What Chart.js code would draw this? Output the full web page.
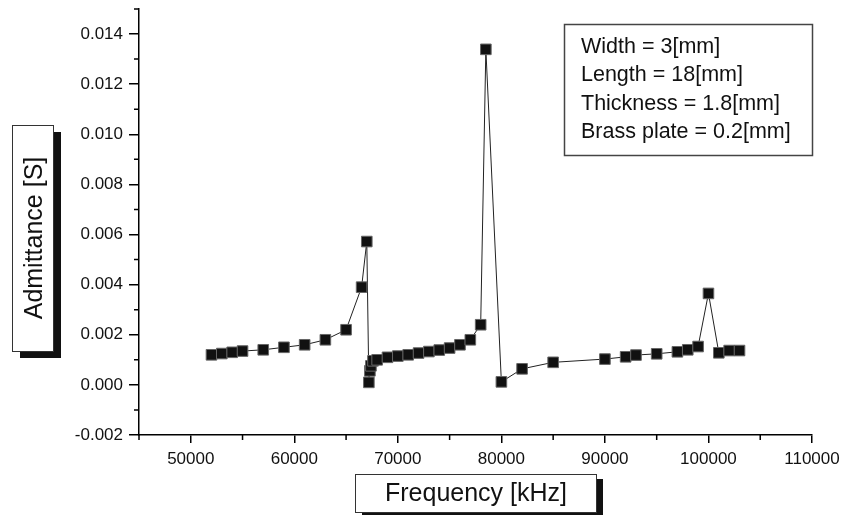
<!DOCTYPE html>
<html>
<head>
<meta charset="utf-8">
<script src="https://cdn.jsdelivr.net/npm/chart.js@4.4.0/dist/chart.umd.min.js"></script>
<style>
  html, body { margin: 0; padding: 0; background: #fff; }
  #wrap { position: relative; width: 857px; height: 515px; }
</style>
</head>
<body>
<div id="wrap"><canvas id="chart" width="857" height="515"></canvas></div>
<script>
const freq = [52000, 53000, 54000, 55000, 57000, 59000, 61000, 63000, 65000, 66500,
              67000, 67200, 67300, 67400, 67600, 68000, 69000, 70000, 71000, 72000,
              73000, 74000, 75000, 76000, 77000, 78000, 78500, 80000, 82000, 85000,
              90000, 92000, 93000, 95000, 97000, 98000, 99000, 100000, 101000, 102000, 103000];
const admittance = [0.00120, 0.00125, 0.00130, 0.00135, 0.00140, 0.00150, 0.00160, 0.00180, 0.00220, 0.00390,
                    0.00572, 0.00010, 0.00056, 0.00076, 0.00096, 0.00100, 0.00110, 0.00115, 0.00120, 0.00127,
                    0.00133, 0.00139, 0.00147, 0.00160, 0.00180, 0.00240, 0.01339, 0.00012, 0.00064, 0.00090,
                    0.00103, 0.00112, 0.00119, 0.00124, 0.00132, 0.00140, 0.00153, 0.00365, 0.00128, 0.00137, 0.00137];

const xTicks = [50000, 60000, 70000, 80000, 90000, 100000, 110000];
const xMinorTicks = [45000, 55000, 65000, 75000, 85000, 95000, 105000];
const yTicks = [-0.002, 0.000, 0.002, 0.004, 0.006, 0.008, 0.010, 0.012, 0.014];
const yMinorTicks = [-0.001, 0.001, 0.003, 0.005, 0.007, 0.009, 0.011, 0.013, 0.015];

const xTitle = 'Frequency [kHz]';
const yTitle = 'Admittance [S]';
const infoLines = ['Width = 3[mm]', 'Length = 18[mm]', 'Thickness = 1.8[mm]', 'Brass plate = 0.2[mm]'];

const FONT = '"Liberation Sans", Arial, Helvetica, sans-serif';

// minor ticks, boxed axis titles and the parameter box
const decorPlugin = {
    id: 'decor',
    afterDraw(chart) {
        const ctx = chart.ctx;
        const xs = chart.scales.x, ys = chart.scales.y;
        const area = chart.chartArea;
        ctx.save();
        ctx.strokeStyle = '#000';
        ctx.lineWidth = 1.5;
        ctx.beginPath();
        xMinorTicks.forEach(v => {
            const px = xs.getPixelForValue(v);
            ctx.moveTo(px, area.bottom);
            ctx.lineTo(px, area.bottom + 5);
        });
        yMinorTicks.forEach(v => {
            const py = ys.getPixelForValue(v);
            ctx.moveTo(area.left, py);
            ctx.lineTo(area.left - 5, py);
        });
        ctx.stroke();

        function boxed(x, y, w, h, dx, dy) {
            ctx.fillStyle = '#111';
            ctx.fillRect(x + dx, y + dy, w, h);
            ctx.fillStyle = '#fff';
            ctx.fillRect(x, y, w, h);
            ctx.strokeStyle = '#333';
            ctx.lineWidth = 1;
            ctx.strokeRect(x + 0.5, y + 0.5, w, h);
        }

        // y title
        boxed(12, 125, 41, 226, 8, 7);
        ctx.save();
        ctx.translate(34, 238);
        ctx.rotate(-Math.PI / 2);
        ctx.fillStyle = '#111';
        ctx.font = '25px ' + FONT;
        ctx.textAlign = 'center';
        ctx.textBaseline = 'middle';
        ctx.fillText(yTitle, 0, 1);
        ctx.restore();

        // x title
        boxed(355, 474, 241, 38, 7, 5);
        ctx.fillStyle = '#111';
        ctx.font = '25px ' + FONT;
        ctx.textAlign = 'center';
        ctx.textBaseline = 'middle';
        ctx.fillText(xTitle, 476, 494);

        // parameter box
        ctx.strokeStyle = '#444';
        ctx.lineWidth = 1.5;
        ctx.strokeRect(564.5, 24.5, 248, 131);
        ctx.fillStyle = '#111';
        ctx.font = '21.5px ' + FONT;
        ctx.textAlign = 'left';
        ctx.textBaseline = 'middle';
        infoLines.forEach((t, i) => ctx.fillText(t, 581, 47 + i * 28.3));
        ctx.restore();
    }
};

new Chart(document.getElementById('chart'), {
    type: 'line',
    data: {
        datasets: [{
            data: freq.map((f, i) => ({ x: f, y: admittance[i] })),
            borderColor: '#222',
            borderWidth: 1,
            tension: 0,
            pointStyle: 'rect',
            pointRadius: 7.5,
            pointBackgroundColor: '#111',
            pointBorderColor: '#666',
            pointBorderWidth: 1
        }]
    },
    options: {
        responsive: false,
        animation: false,
        layout: { padding: { left: 0, top: 9, right: 45, bottom: 0 } },
        plugins: { legend: { display: false }, tooltip: { enabled: false } },
        scales: {
            x: {
                type: 'linear',
                min: 45000, max: 110000,
                afterBuildTicks: s => { s.ticks = xTicks.map(v => ({ value: v })); },
                afterFit: s => { s.height = 80; s.paddingLeft = 0; s.paddingRight = 0; },
                grid: { drawOnChartArea: false, tickLength: 8, color: '#000', lineWidth: 1.5 },
                border: { color: '#000', width: 1.5 },
                ticks: { color: '#111', font: { size: 17, family: FONT }, padding: 6, maxRotation: 0,
                         callback: v => String(v) }
            },
            y: {
                min: -0.002, max: 0.015,
                afterBuildTicks: s => { s.ticks = yTicks.map(v => ({ value: v })); },
                afterFit: s => { s.width = 139; s.paddingTop = 0; s.paddingBottom = 0; },
                grid: { drawOnChartArea: false, tickLength: 10, color: '#000', lineWidth: 1.5 },
                border: { color: '#000', width: 1.5 },
                ticks: { color: '#111', font: { size: 17, family: FONT }, padding: 6,
                         callback: v => v.toFixed(3) }
            }
        }
    },
    plugins: [decorPlugin]
});
</script>
</body>
</html>
